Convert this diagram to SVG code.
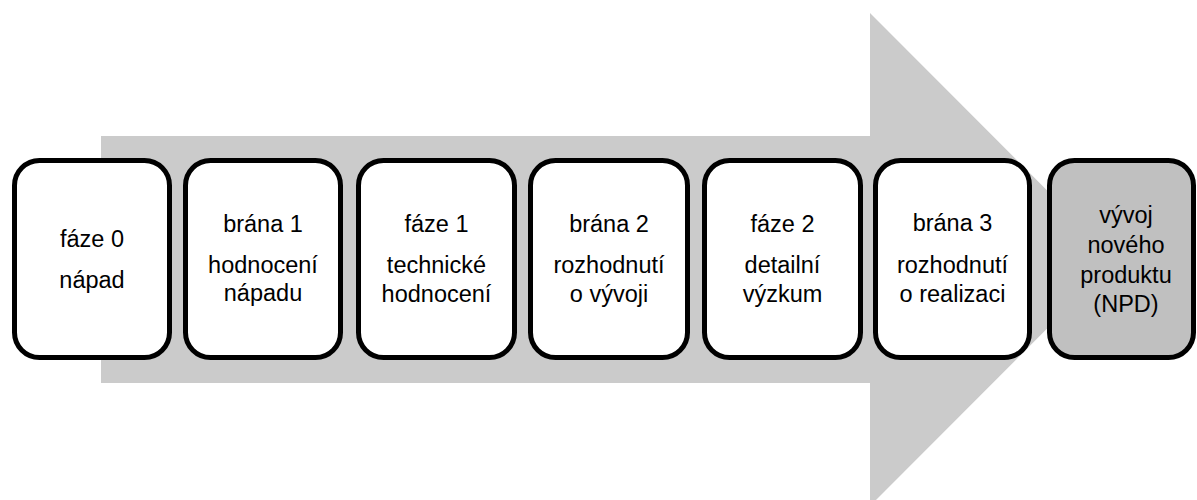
<svg xmlns="http://www.w3.org/2000/svg" width="1197" height="500" viewBox="0 0 1197 500">
  <style>
    .box { fill: #ffffff; stroke: #000000; stroke-width: 5; }
    .box.final { fill: #c0c0c0; }
    .lbl { font-family: "Liberation Sans", Arial, sans-serif; font-size: 23.5px; fill: #000000; text-anchor: middle; }
  </style>
  <rect width="1197" height="500" fill="#ffffff"/>
  <!-- background process arrow -->
  <g id="arrow">
    <polygon points="101,136 870,136 870,13 1116,259.5 870,506 870,383 101,383" fill="#cbcbcb"/>
  </g>
  <g id="n1">
    <rect class="box" x="14.5" y="160.5" width="155" height="197" rx="25"/>
    <text class="lbl" x="92" y="247">fáze 0</text>
    <text class="lbl" x="92" y="288">nápad</text>
  </g>
  <g id="n2">
    <rect class="box" x="185.5" y="160.5" width="155" height="197" rx="25"/>
    <text class="lbl" x="263" y="232">brána 1</text>
    <text class="lbl" x="263" y="273">hodnocení</text>
    <text class="lbl" x="263" y="301">nápadu</text>
  </g>
  <g id="n3">
    <rect class="box" x="358.5" y="160.5" width="156" height="197" rx="25"/>
    <text class="lbl" x="436.5" y="232">fáze 1</text>
    <text class="lbl" x="436.5" y="273">technické</text>
    <text class="lbl" x="436.5" y="302">hodnocení</text>
  </g>
  <g id="n4">
    <rect class="box" x="530.5" y="160.5" width="157" height="197" rx="25"/>
    <text class="lbl" x="609" y="232">brána 2</text>
    <text class="lbl" x="609" y="273">rozhodnutí</text>
    <text class="lbl" x="609" y="302">o vývoji</text>
  </g>
  <g id="n5">
    <rect class="box" x="704.5" y="160.5" width="156" height="197" rx="25"/>
    <text class="lbl" x="782.5" y="232">fáze 2</text>
    <text class="lbl" x="782.5" y="273">detailní</text>
    <text class="lbl" x="782.5" y="302">výzkum</text>
  </g>
  <g id="n6">
    <rect class="box" x="875.5" y="160.5" width="154" height="197" rx="25"/>
    <text class="lbl" x="952.5" y="231">brána 3</text>
    <text class="lbl" x="952.5" y="273">rozhodnutí</text>
    <text class="lbl" x="952.5" y="302">o realizaci</text>
  </g>
  <g id="n7">
    <rect class="box final" x="1049.5" y="160.5" width="144" height="197" rx="25"/>
    <text class="lbl" x="1126" y="223">vývoj</text>
    <text class="lbl" x="1126" y="253">nového</text>
    <text class="lbl" x="1126" y="283">produktu</text>
    <text class="lbl" x="1126" y="312">(NPD)</text>
  </g>
  <g id="connectors"/>
</svg>
